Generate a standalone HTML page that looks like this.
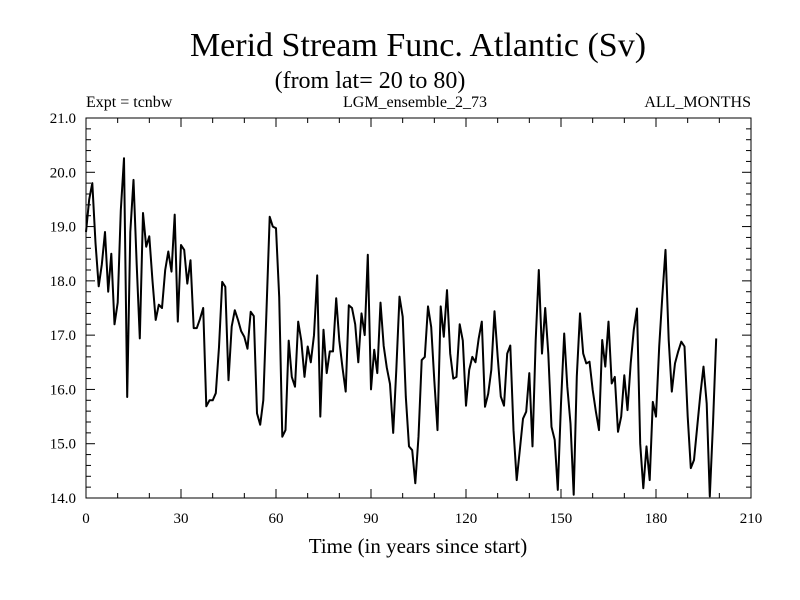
<!DOCTYPE html>
<html><head><meta charset="utf-8"><style>
html,body{margin:0;padding:0;background:#fff;}
svg{display:block;font-family:"Liberation Serif",serif;}
</style></head><body>
<svg id="chart" width="800" height="600">
<text x="418" y="56" font-size="34" text-anchor="middle">Merid Stream Func. Atlantic (Sv)</text>
<text x="370" y="88" font-size="24" text-anchor="middle">(from lat= 20 to 80)</text>
<text x="86" y="107" font-size="16">Expt = tcnbw</text>
<text x="415" y="107" font-size="16" text-anchor="middle">LGM_ensemble_2_73</text>
<text x="751" y="107" font-size="16" text-anchor="end">ALL_MONTHS</text>
<rect x="86" y="118" width="665" height="380" fill="none" stroke="#000" stroke-width="1"/>
<g id="axes"></g>
<path id="line" fill="none" stroke="#000" stroke-width="2" stroke-linejoin="round"/>
<text x="418" y="553" font-size="21" text-anchor="middle">Time (in years since start)</text>
</svg>
<script>
const years = Array.from({length:200},(_,i)=>i);
const values = [18.9,19.5,19.8,18.7,17.9,18.3,18.9,17.8,18.5,17.2,17.6,19.3,20.26,15.86,18.9,19.86,18.3,16.94,19.25,18.63,
18.82,18.0,17.28,17.56,17.5,18.2,18.54,18.17,19.22,17.25,18.66,18.57,17.95,18.38,17.13,17.13,17.3,17.5,15.69,15.8,
15.8,15.93,16.78,17.98,17.89,16.17,17.16,17.46,17.28,17.07,16.97,16.75,17.43,17.35,15.56,15.35,15.8,17.46,19.18,19.0,
18.97,17.7,15.13,15.25,16.9,16.23,16.05,17.25,16.9,16.23,16.79,16.5,17.0,18.1,15.5,17.1,16.3,16.7,16.7,17.68,
16.9,16.4,15.96,17.55,17.5,17.2,16.5,17.4,17.0,18.48,16.0,16.73,16.3,17.6,16.8,16.4,16.1,15.2,16.36,17.71,
17.34,15.87,14.95,14.88,14.27,15.13,16.54,16.6,17.53,17.15,16.17,15.25,17.53,16.97,17.83,16.66,16.2,16.23,17.2,16.9,
15.7,16.36,16.6,16.5,16.94,17.25,15.68,15.92,16.36,17.44,16.6,15.87,15.7,16.66,16.81,15.25,14.33,14.88,15.46,15.59,
16.3,14.95,16.91,18.2,16.66,17.5,16.66,15.31,15.07,14.15,15.74,17.03,16.05,15.37,14.06,16.24,17.4,16.66,16.48,16.51,
15.99,15.6,15.25,16.91,16.42,17.25,16.11,16.23,15.22,15.5,16.26,15.62,16.48,17.1,17.49,15.0,14.18,14.95,14.33,15.77,
15.5,16.79,17.71,18.57,16.91,15.96,16.48,16.7,16.88,16.79,15.5,14.55,14.7,15.31,15.9,16.42,15.74,14.03,15.37,16.94];
const xTicks = [0,30,60,90,120,150,180,210];
const yTicks = [14.0,15.0,16.0,17.0,18.0,19.0,20.0,21.0];
const X0=86,X1=751,Y0=498,Y1=118,xMin=0,xMax=210,yMin=14,yMax=21;
const xs=v=>X0+(v-xMin)/(xMax-xMin)*(X1-X0);
const ys=v=>Y0-(v-yMin)/(yMax-yMin)*(Y0-Y1);
const NS="http://www.w3.org/2000/svg";
const g=document.getElementById('axes');
function ln(x1,y1,x2,y2){const l=document.createElementNS(NS,'line');l.setAttribute('x1',x1);l.setAttribute('y1',y1);l.setAttribute('x2',x2);l.setAttribute('y2',y2);l.setAttribute('stroke','#000');l.setAttribute('stroke-width','1');


g.appendChild(l);}
function tx(x,y,s,anchor){const t=document.createElementNS(NS,'text');t.setAttribute('x',x);t.setAttribute('y',y);t.setAttribute('font-size','15');t.setAttribute('text-anchor',anchor);t.textContent=s;


g.appendChild(t);}
for(let v=0;v<=210;v+=10){const x=xs(v);const L=(v%30===0)?9:5;ln(x,Y0,x,Y0-L);ln(x,Y1,x,Y1+L);}
for(let i=0;i<=35;i++){const v=14+i*0.2;const y=ys(v);const L=(i%5===0)?9:5;ln(X0,y,X0+L,y);ln(X1,y,X1-L,y);}
xTicks.forEach(v=>tx(xs(v),523,String(v),'middle'));
yTicks.forEach(v=>tx(76,ys(v)+5,v.toFixed(1),'end'));
document.getElementById('line').setAttribute('d',values.map((v,i)=>(i?'L':'M')+xs(years[i]).toFixed(1)+' '+ys(v).toFixed(1)).join(' '));
</script>
</body></html>
